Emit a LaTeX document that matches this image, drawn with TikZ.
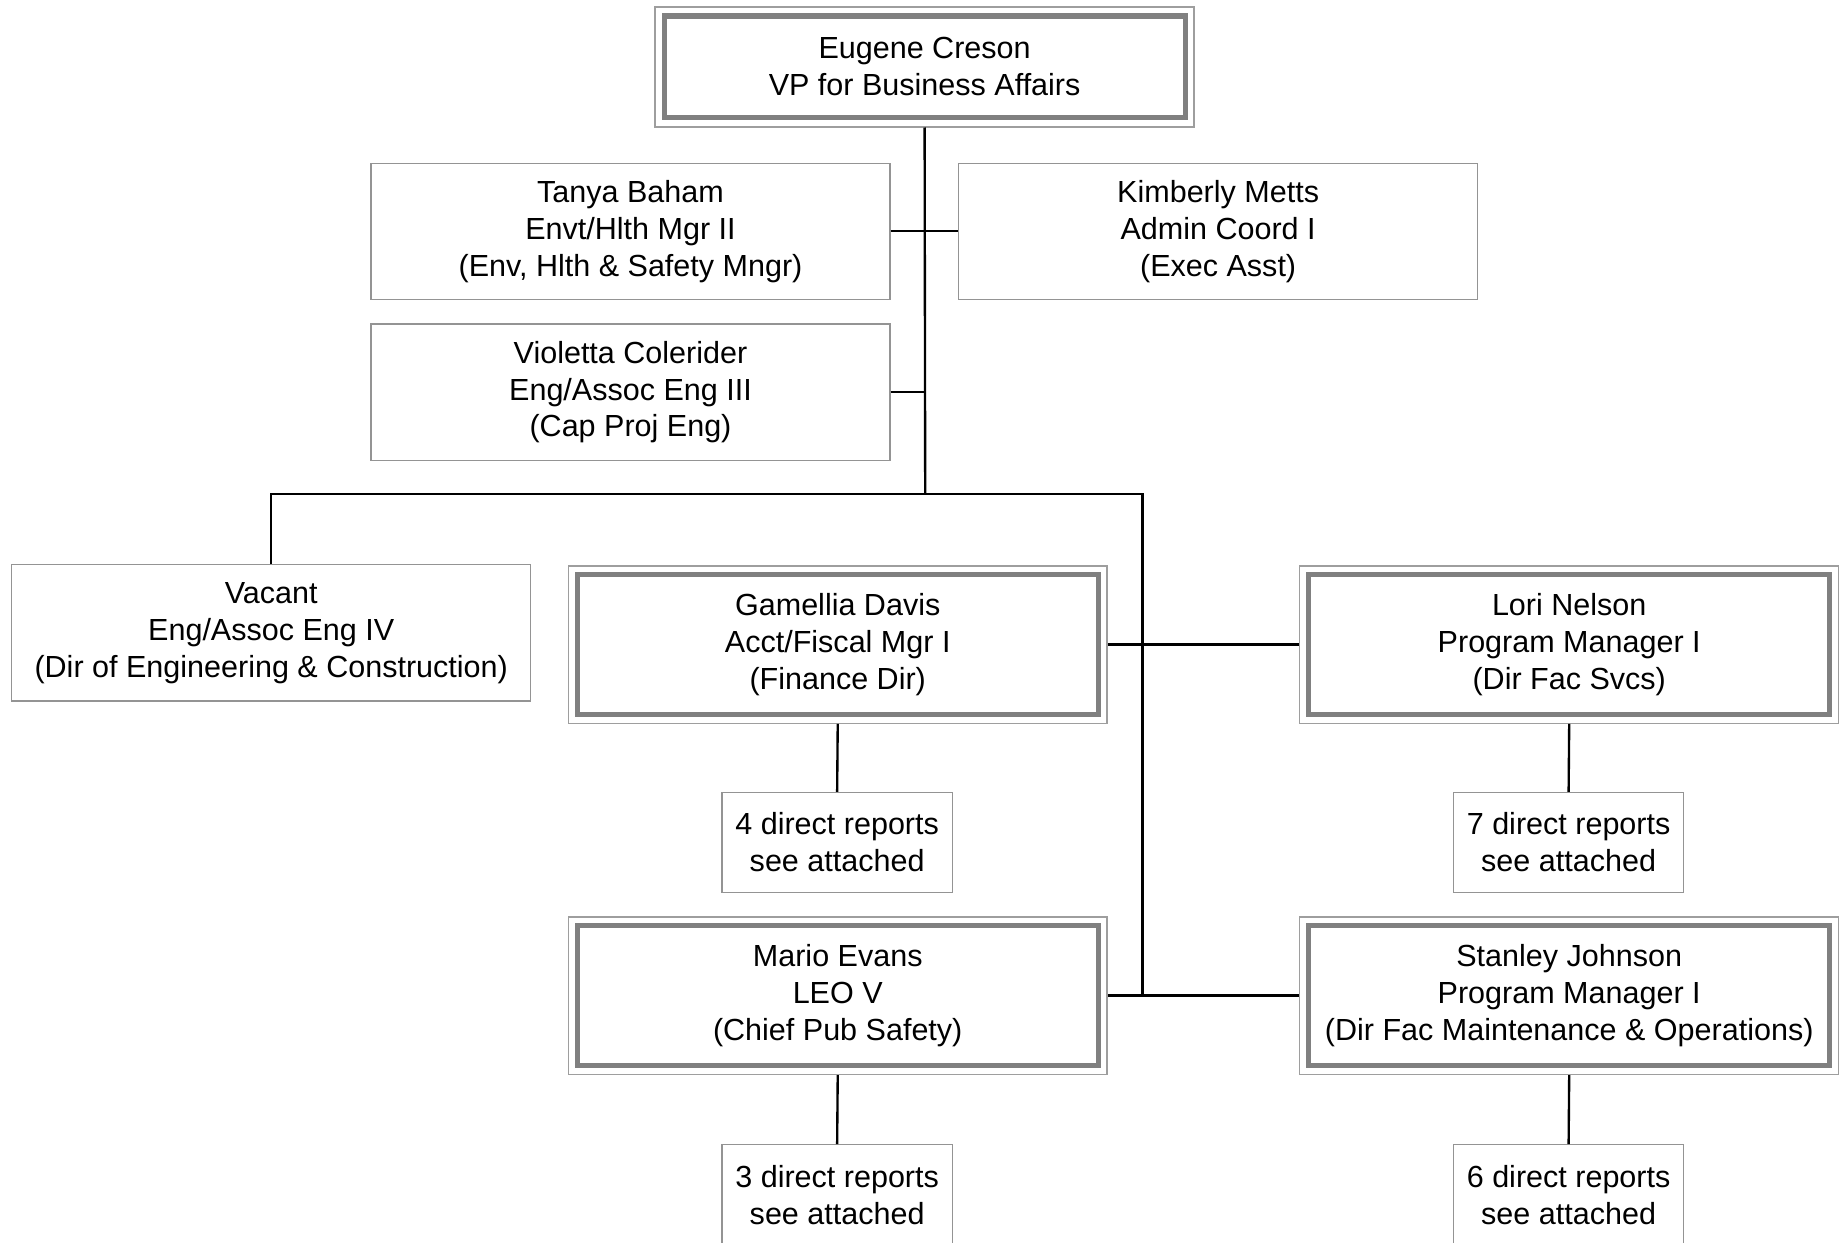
\documentclass[tikz,border=0pt]{standalone}
\usepackage{fontspec}
\setmainfont{Liberation Sans}
\begin{document}
\begin{tikzpicture}[x=0.5pt,y=-0.5pt,
  txt/.style={align=center,font=\fontsize{13}{15.7}\selectfont,inner sep=0pt},
  plainbox/.style={txt,draw=black!42,line width=0.55pt,fill=white},
  dblbox/.style={txt,draw=black!38,line width=0.6pt,fill=white,minimum width=229.5pt,minimum height=67pt,
    path picture={\draw[black!50,line width=2.2pt]
      ([shift={(3.8pt,-3.8pt)}]path picture bounding box.north west) rectangle
      ([shift={(-3.8pt,3.8pt)}]path picture bounding box.south east);}},
  wide/.style={plainbox,minimum width=221pt,minimum height=58pt},
  small/.style={plainbox,minimum width=98pt,minimum height=42.5pt},
  conn/.style={draw=black,line width=1pt}]
\useasboundingbox (0,0) rectangle (1568,1058);

\node[dblbox,minimum height=51pt] (eug) at (787.5,57) {Eugene Creson\\VP for Business Affairs};
\node[wide] (tanya) at (537,197) {Tanya Baham\\Envt/Hlth Mgr II\\(Env, Hlth \& Safety Mngr)};
\node[wide] (kim) at (1037.5,197) {Kimberly Metts\\Admin Coord I\\(Exec Asst)};
\node[wide] (viol) at (537,334) {Violetta Colerider\\Eng/Assoc Eng III\\(Cap Proj Eng)};
\node[wide] (vac) at (231,539) {Vacant\\Eng/Assoc Eng IV\\(Dir of Engineering \& Construction)};
\node[dblbox] (gam) at (713.5,549) {Gamellia Davis\\Acct/Fiscal Mgr I\\(Finance Dir)};
\node[dblbox] (lori) at (1336.5,549) {Lori Nelson\\Program Manager I\\(Dir Fac Svcs)};
\node[small] (r4) at (713,717.5) {4 direct reports\\see attached};
\node[small] (r7) at (1336,717.5) {7 direct reports\\see attached};
\node[dblbox] (mario) at (713.5,848) {Mario Evans\\LEO V\\(Chief Pub Safety)};
\node[dblbox] (stan) at (1336.5,848) {Stanley Johnson\\Program Manager I\\(Dir Fac Maintenance \& Operations)};
\node[small] (r3) at (713,1017.5) {3 direct reports\\see attached};
\node[small] (r6) at (1336,1017.5) {6 direct reports\\see attached};

\coordinate (j1) at (788,421);
\coordinate (asst) at (973,848);

\draw[conn] (eug.south) -- (j1);
\draw[conn] (tanya.east) -- (kim.west);
\draw[conn] (viol.east) -- (viol.east -| j1);
\draw[conn] (vac.north) |- (j1);
\draw[conn] (j1) -| (asst);
\draw[conn] (gam.east) -- (lori.west);
\draw[conn] (mario.east) -- (stan.west);
\draw[conn] (gam.south) -- (r4.north);
\draw[conn] (lori.south) -- (r7.north);
\draw[conn] (mario.south) -- (r3.north);
\draw[conn] (stan.south) -- (r6.north);
\end{tikzpicture}
\end{document}
